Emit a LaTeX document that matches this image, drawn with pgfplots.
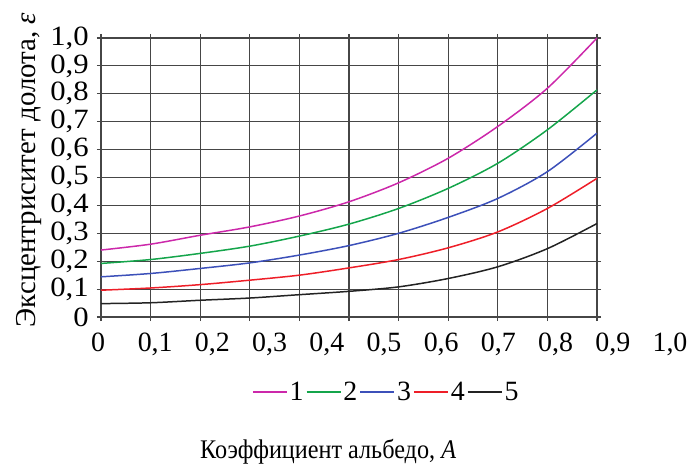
\documentclass[border=0pt]{standalone}
\usepackage{fontspec}
\setmainfont{Liberation Serif}
\usepackage{pgfplots}
\pgfplotsset{compat=1.18}
\definecolor{c1}{RGB}{204,40,170}
\definecolor{c2}{RGB}{20,165,75}
\definecolor{c3}{RGB}{60,80,185}
\definecolor{c4}{RGB}{238,30,40}
\definecolor{c5}{RGB}{35,35,35}
\definecolor{gridc}{RGB}{70,70,70}
\begin{document}
\begin{tikzpicture}
\begin{axis}[
  scale only axis,
  width=496bp, height=279bp,
  at={(0,0)}, anchor=south west,
  xmin=0, xmax=1, ymin=0, ymax=1,
  xtick={0,0.1,...,1.0}, ytick={0,0.1,...,1.0},
  xticklabels={},
  yticklabels={0,{0,1},{0,2},{0,3},{0,4},{0,5},{0,6},{0,7},{0,8},{0,9},{1,0}},
  grid=major,
  major grid style={gridc, line width=1.2pt},
  axis line style={gridc, line width=1.2pt},
  tick style={gridc, line width=1.2pt},
  tick align=outside, major tick length=4bp,
  tick label style={font=\fontsize{28}{28}\selectfont},
  yticklabel style={xscale=1.1, xshift=-4bp},
  xlabel={Коэффициент альбедо, \textit{A}},
  xlabel style={at={(axis description cs:0.458,-0.484)}, anchor=center,
    font=\fontsize{27}{30}\selectfont, xscale=0.9},
  ylabel={Эксцентриситет долота, \textit{ε}},
  ylabel style={at={(axis description cs:-0.145,0.527)}, anchor=center,
    font=\fontsize{29}{30}\selectfont},
  legend style={at={(axis description cs:0.575,-0.269)}, anchor=center, draw=none, fill=none,
    font=\fontsize{28}{28}\selectfont, legend columns=5,
    /tikz/every even column/.append style={column sep=0bp}},
  legend cell align=left,
  legend image code/.code={\draw[#1, line width=1.8pt] (0cm,0cm) -- (34bp,0cm);},
  every axis plot/.append style={line width=1.5pt, smooth},
]
\addplot[c1] coordinates {(0,0.240)(0.1,0.261)(0.2,0.293)(0.3,0.323)(0.4,0.362)(0.5,0.413)(0.6,0.481)(0.7,0.569)(0.8,0.683)(0.9,0.820)(1.0,1.000)};
\addlegendentry{1}
\addplot[c2] coordinates {(0,0.192)(0.1,0.206)(0.2,0.228)(0.3,0.254)(0.4,0.290)(0.5,0.333)(0.6,0.389)(0.7,0.461)(0.8,0.551)(0.9,0.671)(1.0,0.814)};
\addlegendentry{2}
\addplot[c3] coordinates {(0,0.144)(0.1,0.156)(0.2,0.174)(0.3,0.194)(0.4,0.222)(0.5,0.256)(0.6,0.300)(0.7,0.357)(0.8,0.425)(0.9,0.521)(1.0,0.659)};
\addlegendentry{3}
\addplot[c4] coordinates {(0,0.096)(0.1,0.104)(0.2,0.116)(0.3,0.132)(0.4,0.150)(0.5,0.176)(0.6,0.206)(0.7,0.248)(0.8,0.305)(0.9,0.389)(1.0,0.497)};
\addlegendentry{4}
\addplot[c5] coordinates {(0,0.048)(0.1,0.051)(0.2,0.060)(0.3,0.068)(0.4,0.080)(0.5,0.092)(0.6,0.108)(0.7,0.138)(0.8,0.180)(0.9,0.245)(1.0,0.335)};
\addlegendentry{5}
\end{axis}
\begin{axis}[
  scale only axis,
  width=572bp, height=279bp,
  at={(-3bp,0)}, anchor=south west,
  xmin=0, xmax=1, ymin=0, ymax=1,
  hide y axis,
  axis x line*=bottom,
  x axis line style={draw=none},
  xtick={0,0.1,...,1.0},
  xticklabels={0,{0,1},{0,2},{0,3},{0,4},{0,5},{0,6},{0,7},{0,8},{0,9},{1,0}},
  major tick length=0pt,
  tick style={draw=none},
  xticklabel style={font=\fontsize{28}{28}\selectfont, yshift=-12bp},
]
\addplot[draw=none] coordinates {(0,0)(1,1)};
\end{axis}
\pgfresetboundingbox
\useasboundingbox (-101bp,-151bp) rectangle (591bp,317bp);
\end{tikzpicture}
\end{document}
